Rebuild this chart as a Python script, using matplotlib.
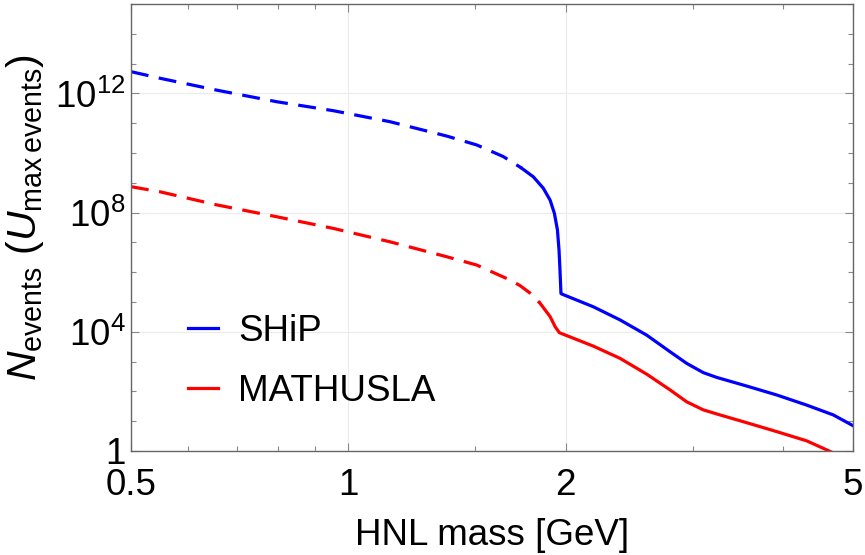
import matplotlib
matplotlib.use('Agg')
import matplotlib.pyplot as plt
from matplotlib.ticker import FixedLocator, NullFormatter, FixedFormatter
import numpy as np

plt.rcParams['font.family'] = ['Liberation Sans', 'DejaVu Sans']
plt.rcParams['mathtext.fontset'] = 'custom'
plt.rcParams['mathtext.rm'] = 'Liberation Sans'
plt.rcParams['mathtext.it'] = 'Liberation Sans:italic'

# SHiP (mass in GeV, log10 of N events)
ship_dash_m = [0.50, 0.548, 0.657, 0.796, 0.953, 1.142, 1.368, 1.506, 1.639, 1.739]
ship_dash_logn = [12.73, 12.51, 12.11, 11.72, 11.42, 11.05, 10.57, 10.27, 9.88, 9.49]
ship_solid_m = [1.738, 1.804, 1.862, 1.903, 1.929, 1.948, 1.958, 1.964, 1.970, 1.974,
                2.184, 2.378, 2.589, 2.790, 2.942, 3.102, 3.237, 3.562, 3.921, 4.314,
                4.696, 5.0]
ship_solid_logn = [9.49, 9.20, 8.82, 8.42, 7.98, 7.42, 6.74, 6.07, 5.29, 5.27,
                   4.84, 4.40, 3.89, 3.33, 2.94, 2.63, 2.47, 2.18, 1.88, 1.54,
                   1.21, 0.85]

# MATHUSLA
math_dash_m = [0.50, 0.548, 0.657, 0.796, 0.953, 1.142, 1.368, 1.506, 1.639, 1.675,
               1.729, 1.785, 1.843]
math_dash_logn = [8.87, 8.70, 8.26, 7.86, 7.47, 7.02, 6.52, 6.24, 5.84, 5.74,
                  5.55, 5.30, 4.96]
math_solid_m = [1.843, 1.903, 1.934, 1.960, 2.184, 2.378, 2.589, 2.790, 2.942, 3.102,
                3.272, 3.562, 3.921, 4.314, 4.654]
math_solid_logn = [4.96, 4.51, 4.17, 3.97, 3.52, 3.11, 2.58, 2.05, 1.65, 1.38,
                   1.21, 0.95, 0.65, 0.34, -0.02]

x_major = [0.5, 1, 2, 5]
x_labels = ['0.5', '1', '2', '5']
x_minor = [0.6, 0.7, 0.8, 0.9, 1.5, 3, 4]
y_major = [1, 1e4, 1e8, 1e12]
y_labels = ['1', r'$10^{4}$', r'$10^{8}$', r'$10^{12}$']

fs = 26.5

fig = plt.figure(figsize=(8.65, 5.55), dpi=100)
ax = fig.add_axes([131/865, 1 - 451/555, 722/865, 447/555])

lw = 2.3
dash = (0, (5.6, 3.3))
ax.plot(ship_dash_m, 10**np.array(ship_dash_logn), color='#0000ff', lw=lw, ls=dash)
ax.plot(ship_solid_m, 10**np.array(ship_solid_logn), color='#0000ff', lw=lw, label='SHiP')
ax.plot(math_dash_m, 10**np.array(math_dash_logn), color='#ff0000', lw=lw, ls=dash)
ax.plot(math_solid_m, 10**np.array(math_solid_logn), color='#ff0000', lw=lw, label='MATHUSLA')

ax.set_xscale('log')
ax.set_yscale('log')
ax.set_xlim(0.5, 5)
ax.set_ylim(1, 1e15)

ax.xaxis.set_major_locator(FixedLocator(x_major))
ax.xaxis.set_major_formatter(FixedFormatter(x_labels))
ax.xaxis.set_minor_locator(FixedLocator(x_minor))
ax.xaxis.set_minor_formatter(NullFormatter())
ax.yaxis.set_major_locator(FixedLocator(y_major))
ax.yaxis.set_major_formatter(FixedFormatter(y_labels))
ax.yaxis.set_minor_locator(FixedLocator([10.0**k for k in range(16)]))
ax.yaxis.set_minor_formatter(NullFormatter())

ax.tick_params(which='both', direction='in', top=True, right=True, color='#888888', labelsize=fs)
ax.tick_params(which='major', length=6, width=0.8)
ax.tick_params(which='minor', length=3.5, width=0.8)
ax.tick_params(axis='x', pad=12)
ax.tick_params(axis='y', pad=4)

for s in ax.spines.values():
    s.set_color('#666666')
    s.set_linewidth(1.0)

ax.grid(True, which='major', color='#ebebeb', lw=0.8)
ax.set_axisbelow(True)

ax.set_xlabel('HNL mass [GeV]', fontsize=fs, labelpad=11)
ax.set_ylabel(r'$N_{\mathrm{events}}$ ($U_{\mathrm{max\,events}}$)', fontsize=29.5)
ax.yaxis.set_label_coords(-0.118, 0.522)

ax.legend(loc='lower left', bbox_to_anchor=(0.079, 0.095), frameon=False, fontsize=fs,
          handlelength=0.82, handletextpad=0.55, labelspacing=0.68, borderpad=0, borderaxespad=0)

fig.savefig('out.png', dpi=100)
